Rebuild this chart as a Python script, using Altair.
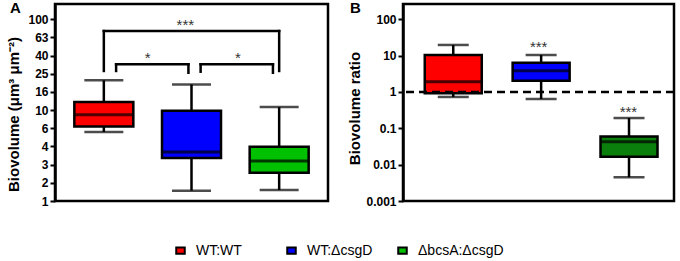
import altair as alt
import pandas as pd

# ---------------- data ----------------
groups = ["WT:WT", "WT:ΔcsgD", "ΔbcsA:ΔcsgD"]
positions = [1, 2, 3]

# Panel A: biovolume (µm3 µm-2)
a_low = [5.75, 1.30, 1.32]
a_q1 = [6.6, 2.97, 2.05]
a_median = [8.9, 3.46, 2.76]
a_q3 = [12.3, 9.86, 3.96]
a_high = [21.3, 19.2, 10.8]

# Panel B: biovolume ratio
b_low = [0.73, 0.64, 0.0045]
b_q1 = [0.92, 2.05, 0.0166]
b_median = [1.92, 3.86, 0.043]
b_q3 = [10.4, 6.4, 0.060]
b_high = [19.7, 10.4, 0.192]

# axis tick values
a_ticks = [1, 1.585, 2.512, 3.981, 6.31, 10, 15.85, 25.12, 39.81, 63.1, 100]
b_ticks = [0.001, 0.01, 0.1, 1, 10, 100]

# significance brackets (panel A)
br_x1 = [1.0, 1.14, 2.104]
br_x2 = [3.0, 1.965, 2.929]
br_top = [74.3, 32.0, 32.0]
br_left_bottom = [27.0, 27.0, 26.5]
br_right_bottom = [27.0, 25.8, 25.8]
br_label = ["***", "*", "*"]
br_label_x = [1.93, 1.5, 2.53]

# significance labels (panel B)
b_star_x = [1.972, 2.993]
b_star_y = [12.3, 0.2]
b_star_label = ["***", "***"]

ratio_reference = [1]

colors_a = ["#ff0000", "#0000ff", "#00c000"]
colors_b = ["#ff0000", "#0000ff", "#0b7f0b"]

FONT = "Liberation Sans"

df_a = pd.DataFrame({"group": groups, "pos": positions, "low": a_low, "q1": a_q1,
                     "median": a_median, "q3": a_q3, "high": a_high})
df_b = pd.DataFrame({"group": groups, "pos": positions, "low": b_low, "q1": b_q1,
                     "median": b_median, "q3": b_q3, "high": b_high})
df_br = pd.DataFrame({"x1": br_x1, "x2": br_x2, "top": br_top,
                      "lb": br_left_bottom, "rb": br_right_bottom,
                      "label": br_label, "lx": br_label_x})
df_bs = pd.DataFrame({"sx": b_star_x, "sy": b_star_y, "label": b_star_label})
df_ref = pd.DataFrame({"r": ratio_reference})


def box_panel(df, xdom, yscale, yaxis, ytitle, colors, box_w, cap_w, legend):
    def X(field):
        return alt.X(field, type="quantitative",
                     scale=alt.Scale(domain=xdom, nice=False, zero=False), axis=None)

    def Y(field):
        return alt.Y(field, type="quantitative", scale=yscale, axis=yaxis, title=ytitle)

    base = alt.Chart(df)
    whisk = base.mark_rule(color="black", strokeWidth=2.5).encode(
        x=X("pos"), y=Y("low"), y2="high")
    cap_lo = base.mark_tick(orient="horizontal", color="black", size=cap_w,
                            thickness=2.5).encode(x=X("pos"), y=Y("low"))
    cap_hi = base.mark_tick(orient="horizontal", color="black", size=cap_w,
                            thickness=2.5).encode(x=X("pos"), y=Y("high"))
    box = base.mark_bar(orient="vertical", size=box_w, stroke="black",
                        strokeWidth=2.5).encode(
        x=X("pos"), y=Y("q1"), y2="q3",
        fill=alt.Fill("group:N", scale=alt.Scale(domain=groups, range=colors),
                      legend=legend))
    med = base.mark_tick(orient="horizontal", color="black", size=box_w,
                         thickness=3).encode(x=X("pos"), y=Y("median"))
    return [whisk, cap_lo, cap_hi, box, med], X, Y


legend_a = alt.Legend(
    orient="none", legendX=116, legendY=237, direction="horizontal", title=None,
    symbolType="M-0.5,-0.38H0.5V0.38H-0.5Z", symbolSize=289,
    symbolStrokeColor="black", symbolStrokeWidth=2, symbolOpacity=1,
    labelFont=FONT, labelFontSize=14, labelColor="black", labelOffset=6,
    columnPadding=0, gridAlign="all", padding=0, labelLimit=200)

yscale_a = alt.Scale(type="log", domain=[1, 147.4], nice=False)
yaxis_a = alt.Axis(values=a_ticks, labelExpr="format(datum.value, '.0f')",
                   titleX=-42, titleY=110, titleBaseline="middle", titleAngle=-90)
layers_a, XA, YA = box_panel(df_a, [0.5, 3.5], yscale_a, yaxis_a,
                             "Biovolume (μm³ μm⁻²)", colors_a, 59, 39, legend_a)

br = alt.Chart(df_br)
br_h = br.mark_rule(color="black", strokeWidth=2.5, strokeCap="square").encode(
    x=XA("x1"), x2="x2", y=YA("top"))
br_l = br.mark_rule(color="black", strokeWidth=2.5, strokeCap="square").encode(
    x=XA("x1"), y=YA("top"), y2="lb")
br_r = br.mark_rule(color="black", strokeWidth=2.5, strokeCap="square").encode(
    x=XA("x2"), y=YA("top"), y2="rb")
br_t = br.mark_text(font=FONT, fontSize=15, color="#333333", baseline="alphabetic",
                    align="center", dy=-1).encode(
    x=XA("lx"), y=YA("top"), text="label:N")

panel_a = alt.layer(*layers_a, br_h, br_l, br_r, br_t).properties(
    width=273, height=197,
    title=alt.TitleParams("A", anchor="start", frame="group", orient="top",
                          dx=-45, dy=12, offset=0, baseline="top",
                          fontSize=15, fontWeight="bold", font=FONT, color="black"))

yscale_b = alt.Scale(type="log", domain=[0.001, 264], nice=False)
yaxis_b = alt.Axis(values=b_ticks, format="~g",
                   titleX=-49, titleY=104, titleBaseline="middle", titleAngle=-90)
layers_b, XB, YB = box_panel(df_b, [0.485, 3.455], yscale_b, yaxis_b,
                             "Biovolume ratio", colors_b, 57, 31, None)

ref_line = alt.Chart(df_ref).mark_rule(color="black", strokeWidth=2.5,
                                       strokeDash=[8, 5]).encode(y=YB("r"))
b_text = alt.Chart(df_bs).mark_text(font=FONT, fontSize=15, color="#333333",
                                    baseline="alphabetic", align="center").encode(
    x=XB("sx"), y=YB("sy"), text="label:N")

panel_b = alt.layer(*layers_b, ref_line, b_text).properties(
    width=271, height=197,
    title=alt.TitleParams("B", anchor="start", frame="group", orient="top",
                          dx=-53, dy=12, offset=0, baseline="top",
                          fontSize=15, fontWeight="bold", font=FONT, color="black"))

chart = alt.hconcat(panel_a, panel_b, spacing=75, bounds="flush").resolve_scale(
    fill="independent"
).properties(
    padding={"left": 55, "top": 4, "right": 625, "bottom": 257},
    autosize=alt.AutoSizeParams(type="none"),
    background="white",
).configure_view(
    stroke="black", strokeWidth=2.5
).configure_axis(
    grid=False, domainColor="black", domainWidth=2.5, tickColor="black",
    tickWidth=2, tickSize=5, labelFont=FONT, labelFontSize=12,
    labelFontWeight="bold", labelColor="black", labelPadding=2,
    titleFont=FONT, titleFontSize=15, titleFontWeight="bold", titleColor="black",
)

chart.save("out.html", embed_options={"renderer": "svg", "actions": False})
